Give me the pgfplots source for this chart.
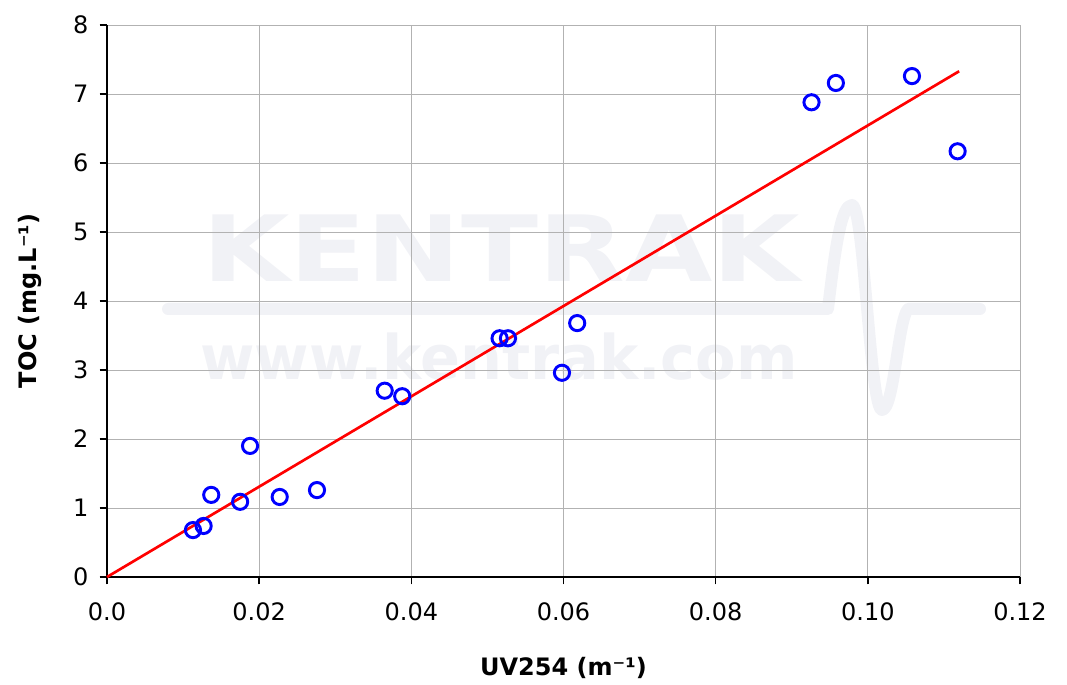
\documentclass[border=0pt]{standalone}
\usepackage{pgfplots}
\pgfplotsset{compat=1.18}
\usepackage{fontspec}
\setmainfont{DejaVu Sans}
\definecolor{wm}{RGB}{241,242,246}
\begin{document}
\begin{tikzpicture}
% watermark (decorative, behind the grid); 1px = 0.75pt, origin = plot lower-left
\begin{scope}[x=0.75pt,y=-0.75pt, shift={(-107*0.75pt,577*0.75pt)}]
  \node[text=wm, inner sep=0pt, anchor=center] at (501,248.5) {\resizebox{448pt}{50pt}{\bfseries KENTRAK}};
  \node[text=wm, inner sep=0pt, anchor=center] at (499,356.5) {\resizebox{448pt}{35pt}{\bfseries www.kentrak.com}};
  \draw[wm, line width=9pt, line cap=round, line join=round]
    (168,309) -- (828,309) .. controls (836,240) and (842,205) .. (852,205)
    .. controls (864,205) and (870,410) .. (882,410)
    .. controls (894,410) and (898,320) .. (908,309) -- (980,309);
\end{scope}
\begin{axis}[
  name=ax,
  anchor=south west, at={(0,0)},
  scale only axis,
  width=684.75pt, height=414pt,
  xmin=0, xmax=0.12, ymin=0, ymax=8,
  xtick={0,0.02,0.04,0.06,0.08,0.10,0.12},
  xticklabels={0.0,0.02,0.04,0.06,0.08,0.10,0.12},
  ytick={0,1,...,8},
  yticklabel style={/pgf/number format/assume math mode=true},
  ticklabel style={font=\fontsize{18}{21}\selectfont},
  xticklabel style={yshift=-10pt},
  yticklabel style={xshift=-5pt},
  grid=major,
  major grid style={draw=black!30, line width=0.75pt},
  axis x line*=bottom, axis y line*=left,
  axis line style={line width=1.5pt, -},
  tick style={black, line width=1.2pt},
  tick align=outside,
  major tick length=5.5pt,
  xlabel={\bfseries UV254 (m⁻¹)},
  ylabel={\bfseries TOC (mg.L⁻¹)},
  label style={font=\fontsize{18}{21}\selectfont},
  xlabel style={at={(axis description cs:0.5,0)}, anchor=center, yshift=-68.5pt},
  ylabel style={at={(axis description cs:-0.0847,0.5)}, anchor=center},
  clip=false,
]
\addplot[red, line width=2pt] coordinates {(0,0) (0.1120,7.33)};
\addplot[only marks, mark=o, mark size=5.7pt, mark options={draw=blue, line width=2.2pt}] coordinates {
(0.0113,0.68) (0.0127,0.74) (0.0137,1.19) (0.0175,1.09) (0.0188,1.90)
(0.0227,1.16) (0.0276,1.26) (0.0365,2.70) (0.0388,2.62) (0.0516,3.46)
(0.0527,3.46) (0.0598,2.96) (0.0618,3.68) (0.0926,6.88) (0.0958,7.16)
(0.1058,7.26) (0.1118,6.17)};
\end{axis}
\pgfresetboundingbox
\path (ax.south west) ++(-80.25pt,-81pt) rectangle ++(800.25pt,513.75pt);
\end{tikzpicture}
\end{document}
